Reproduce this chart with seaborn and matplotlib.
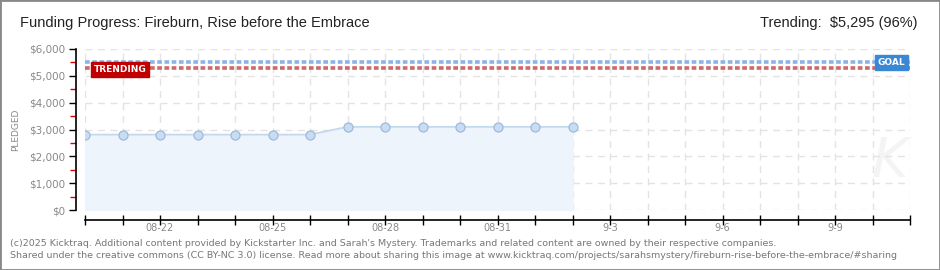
import matplotlib
matplotlib.use("Agg")
import matplotlib.pyplot as plt
import seaborn as sns
import pandas as pd
import numpy as np
from matplotlib.patches import Rectangle

# ---- data ----
dates = pd.date_range("2025-08-20", "2025-09-02", freq="D")
pledged = [2810, 2810, 2810, 2810, 2810, 2810, 2810,
           3100, 3100, 3100, 3100, 3100, 3100, 3100]
goal = 5500
trending = 5295
x_start, x_end = pd.Timestamp("2025-08-20"), pd.Timestamp("2025-09-11")
label_dates = pd.to_datetime(["2025-08-22", "2025-08-25", "2025-08-28", "2025-08-31",
                              "2025-09-03", "2025-09-06", "2025-09-09"])
label_texts = ["08-22", "08-25", "08-28", "08-31", "9-3", "9-6", "9-9"]
y_ticks = [0, 1000, 2000, 3000, 4000, 5000, 6000]
y_labels = ["$0", "$1,000", "$2,000", "$3,000", "$4,000", "$5,000", "$6,000"]
title = "Funding Progress: Fireburn, Rise before the Embrace"
footer1 = ("(c)2025 Kicktraq. Additional content provided by Kickstarter Inc. and Sarah's Mystery. "
           "Trademarks and related content are owned by their respective companies.")
footer2 = ("Shared under the creative commons (CC BY-NC 3.0) license. Read more about sharing this image at "
           "www.kicktraq.com/projects/sarahsmystery/fireburn-rise-before-the-embrace/#sharing")

df = pd.DataFrame({"date": dates, "pledged": pledged})

sns.set_style("white")
plt.rcParams["font.family"] = ["DejaVu Sans"]

fig = plt.figure(figsize=(9.4, 2.7), dpi=100)
W, H = 940, 270
ax = fig.add_axes([85 / W, 1 - 210 / H, (910 - 85) / W, (210 - 49) / H])

# grid
ax.set_xlim(x_start, x_end)
ax.set_ylim(0, 6000)
all_days = pd.date_range(x_start, x_end, freq="D")
ax.set_xticks(all_days)
ax.set_xticklabels(["" for _ in all_days])
ax.set_yticks(y_ticks)
ax.set_yticklabels(y_labels)
ax.set_yticks(np.arange(500, 6000, 1000), minor=True)
ax.grid(True, which="major", color="#e3e3e3", linestyle=(0, (5, 4)), linewidth=1)
ax.set_axisbelow(True)

# area + line
ax.fill_between(df["date"], df["pledged"], 0, color="#eef4fc", zorder=1)
sns.lineplot(data=df, x="date", y="pledged", ax=ax, color="#c4d8ee", linewidth=1.3,
             marker="o", markersize=6.5, markerfacecolor="#c7ddf6",
             markeredgecolor="#9fb9d8", markeredgewidth=0.9, zorder=3)

# goal / trending lines
ax.axhline(goal, color="#8ab4e6", linewidth=2.6, linestyle=(0, (1.3, 0.7)), zorder=2)
ax.axhline(trending, color="#cc6a6a", linewidth=2.6, linestyle=(0, (1.3, 0.7)), zorder=2)

ax.text(pd.Timestamp("2025-08-20 05:30"), trending - 60, "TRENDING", color="white", fontsize=6.5,
        va="center", ha="left", fontweight="bold", zorder=5,
        bbox=dict(boxstyle="square,pad=0.3", fc="#c00000", ec="#c00000"))
ax.text(pd.Timestamp("2025-09-10 21:00"), goal, "GOAL", color="white", fontsize=6.5,
        va="center", ha="right", fontweight="bold", zorder=5,
        bbox=dict(boxstyle="square,pad=0.3", fc="#3a87d6", ec="#3a87d6"))

# watermark
ax.text(0.975, 0.3, "K", transform=ax.transAxes, fontsize=40, color="#f4f4f4",
        ha="center", va="center", fontstyle="italic", zorder=0)

# spines
for s in ["top", "right"]:
    ax.spines[s].set_visible(False)
for s in ["left", "bottom"]:
    ax.spines[s].set_visible(True)
    ax.spines[s].set_color("black")
    ax.spines[s].set_linewidth(1.2)
    ax.spines[s].set_zorder(6)
ax.spines["left"].set_position(("outward", 6.5))
ax.spines["bottom"].set_position(("outward", 7.2))
ax.tick_params(axis="y", which="major", direction="out", length=5, width=1, colors="black",
               labelsize=7.5, labelcolor="#888888", pad=3, left=True)
ax.tick_params(axis="y", which="minor", direction="out", length=4, width=1, color="#dd0000", left=True)
ax.tick_params(axis="x", which="major", direction="inout", length=7, width=1, color="black",
               bottom=True)

for d, t in zip(label_dates, label_texts):
    ax.annotate(t, xy=(d, 0), xycoords=("data", "axes fraction"), xytext=(0, -13),
                textcoords="offset points", ha="center", va="center", fontsize=7,
                color="#888888")

ax.set_xlabel("")
ax.set_ylabel("PLEDGED", fontsize=6.5, color="#888888", labelpad=6)

# header texts
fig.text(20 / W, 1 - 23 / H, title, fontsize=10.5, color="#222222", va="center", ha="left",
         family=["Liberation Sans"])
fig.text(918 / W, 1 - 23 / H, "Trending:  $5,295 (96%)", fontsize=10.5, color="#222222",
         va="center", ha="right", family=["Liberation Sans"])

# footer
fig.text(10 / W, 1 - 243 / H, footer1, fontsize=6.8, color="#777777", va="center", ha="left")
fig.text(10 / W, 1 - 255 / H, footer2, fontsize=6.8, color="#777777", va="center", ha="left")

# figure border
fig.patches.append(Rectangle((0, 0), 1, 1, transform=fig.transFigure, fill=False,
                             edgecolor="#888888", linewidth=2))

fig.savefig("out.png", dpi=100, facecolor="white")
